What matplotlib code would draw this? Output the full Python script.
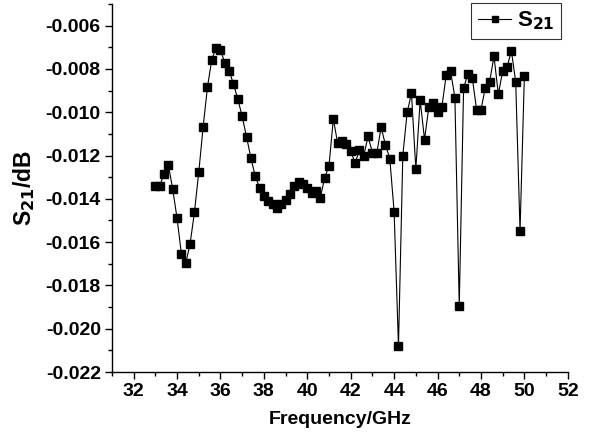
import matplotlib
matplotlib.use("Agg")
import matplotlib.pyplot as plt
from matplotlib.ticker import MultipleLocator, FormatStrFormatter

plt.rcParams['font.family'] = ['Liberation Sans', 'DejaVu Sans']
plt.rcParams['font.weight'] = 'bold'
plt.rcParams['mathtext.default'] = 'bf'

freq = [33.0, 33.2, 33.4, 33.6, 33.8, 34.0, 34.2, 34.4, 34.6, 34.8,
        35.0, 35.2, 35.4, 35.6, 35.8, 36.0, 36.2, 36.4, 36.6, 36.8,
        37.0, 37.2, 37.4, 37.6, 37.8, 38.0, 38.2, 38.4, 38.6, 38.8,
        39.0, 39.2, 39.4, 39.6, 39.8, 40.0, 40.2, 40.4, 40.6, 40.8,
        41.0, 41.2, 41.4, 41.6, 41.8, 42.0, 42.2, 42.4, 42.6, 42.8,
        43.0, 43.2, 43.4, 43.6, 43.8, 44.0, 44.2, 44.4, 44.6, 44.8,
        45.0, 45.2, 45.4, 45.6, 45.8, 46.0, 46.2, 46.4, 46.6, 46.8,
        47.0, 47.2, 47.4, 47.6, 47.8, 48.0, 48.2, 48.4, 48.6, 48.8,
        49.0, 49.2, 49.4, 49.6, 49.8, 50.0]

s21 = [-0.01340, -0.01340, -0.01286, -0.01243, -0.01355, -0.01489, -0.01653, -0.01697, -0.01609, -0.01463,
       -0.01278, -0.01070, -0.00885, -0.00757, -0.00703, -0.00711, -0.00772, -0.00808, -0.00870, -0.00939,
       -0.01019, -0.01113, -0.01210, -0.01294, -0.01349, -0.01386, -0.01409, -0.01423, -0.01442, -0.01423,
       -0.01405, -0.01377, -0.01340, -0.01321, -0.01331, -0.01349, -0.01372, -0.01363, -0.01395, -0.01303,
       -0.01247, -0.01031, -0.01144, -0.01135, -0.01147, -0.01178, -0.01235, -0.01175, -0.01201, -0.01112,
       -0.01186, -0.01190, -0.01070, -0.01150, -0.01214, -0.01460, -0.02080, -0.01200, -0.01001, -0.00913,
       -0.01263, -0.00944, -0.01126, -0.00975, -0.00955, -0.01001, -0.00975, -0.00828, -0.00811, -0.00932,
       -0.01895, -0.00888, -0.00823, -0.00842, -0.00988, -0.00988, -0.00888, -0.00858, -0.00742, -0.00916,
       -0.00811, -0.00793, -0.00716, -0.00859, -0.01548, -0.00831]

xticks = [32, 34, 36, 38, 40, 42, 44, 46, 48, 50, 52]
yticks = [-0.022, -0.020, -0.018, -0.016, -0.014, -0.012, -0.010, -0.008, -0.006]

fig = plt.figure(figsize=(5.89, 4.45), dpi=100)
ax = fig.add_axes([0.190, 0.164, 0.774, 0.827])

ax.plot(freq, s21, color='black', linewidth=0.8, marker='s', markersize=6.0,
        markerfacecolor='black', markeredgecolor='black', label='S$_{21}$')

ax.set_xlim(31, 52)
ax.set_ylim(-0.022, -0.005)
ax.set_xticks(xticks)
ax.set_yticks(yticks)
ax.xaxis.set_minor_locator(MultipleLocator(1))
ax.yaxis.set_minor_locator(MultipleLocator(0.001))
ax.yaxis.set_major_formatter(FormatStrFormatter('%.3f'))

for s in ['top', 'right']:
    ax.spines[s].set_visible(False)
for s in ['left', 'bottom']:
    ax.spines[s].set_linewidth(1.0)

ax.tick_params(axis='both', which='major', direction='out', length=5, width=1.0,
               labelsize=14, pad=3)
ax.tick_params(axis='both', which='minor', direction='out', length=3, width=1.0)
for lab in ax.get_xticklabels() + ax.get_yticklabels():
    lab.set_fontweight('bold')

ax.set_xlabel('Frequency/GHz', fontsize=14, fontweight='bold', labelpad=8)
ax.set_ylabel('S$_{21}$/dB', fontsize=16.5, fontweight='bold', labelpad=6)

leg = ax.legend(loc='upper right', bbox_to_anchor=(561/589, 1 - 3/445),
                bbox_transform=fig.transFigure, fontsize=16, frameon=True,
                fancybox=False, handlelength=1.5, handletextpad=0.25,
                borderpad=0.3, borderaxespad=0, markerscale=0.75)
leg.get_frame().set_edgecolor('black')
leg.get_frame().set_linewidth(0.8)

fig.savefig('out.png', dpi=100)
